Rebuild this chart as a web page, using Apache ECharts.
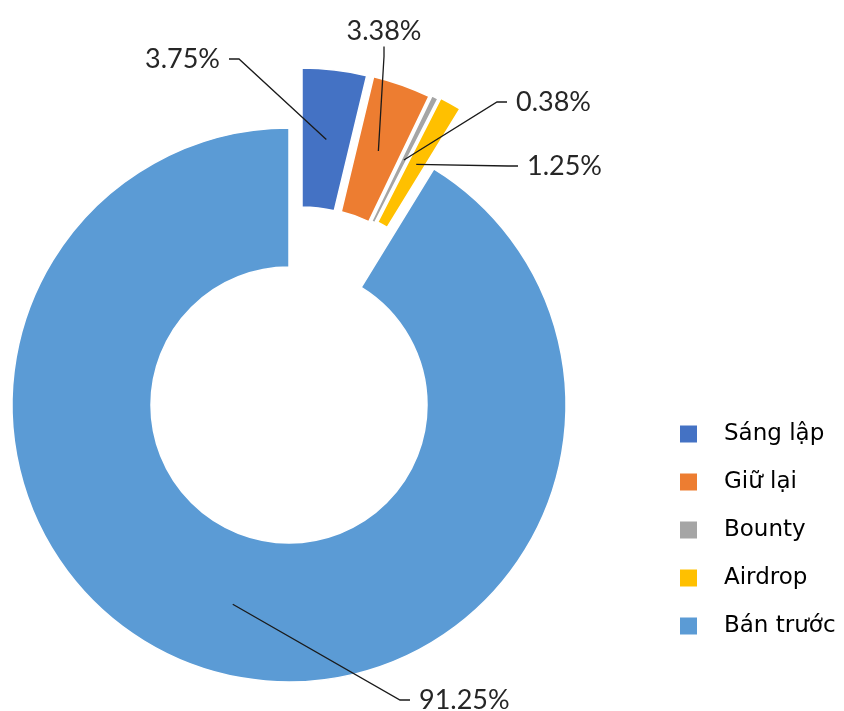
<!DOCTYPE html>
<html>
<head>
<meta charset="utf-8">
<script src="https://cdn.jsdelivr.net/npm/echarts@6/dist/echarts.min.js"></script>
<style>
  html, body { margin: 0; padding: 0; background: #fff; }
  #main { width: 844px; height: 711px; }
</style>
</head>
<body>
<div id="main"></div>
<script>
// data
var categories = ['Sáng lập', 'Giữ lại', 'Bounty', 'Airdrop', 'Bán trước'];
var shares = [3.75, 3.38, 0.38, 1.25, 91.25];
var colors = ['#4472C4', '#ED7D31', '#A5A5A5', '#FFC000', '#5B9BD5'];

// layout: pie centre, how far each slice is pulled out, where its % label sits
var cx = 289, cy = 405;
var sliceShift = [[13, -60], [20, -59], [23, -59.5], [26, -60], [0, 0]];
var labelSpots = [
    [229, 59, 'right'],
    [384, 31, 'center'],
    [507, 102, 'left'],
    [518, 166, 'left'],
    [410, 700, 'left']
];

window.addEventListener('load', function () {
    var myChart = echarts.init(document.getElementById('main'));
    var hidden = 'rgba(0,0,0,0)';

    // one pie per slice so each slice can be pulled out its own way
    function sliceData(k, withLabel) {
        return categories.map(function (name, i) {
            var on = i === k;
            return {
                name: name,
                value: shares[i],
                itemStyle: {
                    color: on && !withLabel ? colors[i] : hidden,
                    borderColor: '#fff',
                    borderWidth: on && !withLabel ? 1.5 : 0
                },
                label: { show: withLabel && on },
                labelLine: { show: withLabel && on }
            };
        });
    }

    var series = [];
    categories.forEach(function (name, k) {
        series.push({
            type: 'pie',
            z: 2,
            center: [cx + sliceShift[k][0], cy + sliceShift[k][1]],
            radius: [138, 277],
            startAngle: 90,
            silent: true,
            label: { show: false },
            labelLine: { show: false },
            emphasis: { disabled: true },
            data: sliceData(k, false)
        });
    });
    // invisible copies whose outer edge sits mid-ring, only used to hang the % labels on
    categories.forEach(function (name, k) {
        series.push({
            type: 'pie',
            z: 3,
            center: [cx + sliceShift[k][0], cy + sliceShift[k][1]],
            radius: [0, 207],
            startAngle: 90,
            silent: true,
            avoidLabelOverlap: false,
            emphasis: { disabled: true },
            label: {
                position: 'outside',
                formatter: '{c}%',
                fontFamily: 'Lato',
                fontSize: 27,
                color: '#262626',
                backgroundColor: 'rgba(255,255,255,0)',
                padding: [2, 9]
            },
            labelLine: {
                length: 5,
                length2: 10,
                lineStyle: { color: '#1a1a1a', width: 1.3 }
            },
            labelLayout: function (params) {
                var s = labelSpots[params.dataIndex];
                return { x: s[0], y: s[1], align: s[2], verticalAlign: 'middle' };
            },
            data: sliceData(k, true)
        });
    });

    var option = {
        backgroundColor: '#fff',
        animation: false,
        legend: {
            orient: 'vertical',
            left: 680,
            top: 420,
            padding: 0,
            itemWidth: 17,
            itemHeight: 17,
            itemGap: 20,
            icon: 'rect',
            selectedMode: false,
            itemStyle: { borderWidth: 0 },
            textStyle: {
                fontFamily: 'DejaVu Sans',
                fontSize: 23,
                lineHeight: 28,
                color: '#000',
                padding: [0, 0, 0, 22]
            },
            data: categories.map(function (name, i) {
                return { name: name, itemStyle: { color: colors[i], borderWidth: 0 } };
            })
        },
        series: series
    };

    myChart.setOption(option);
});
</script>
</body>
</html>
